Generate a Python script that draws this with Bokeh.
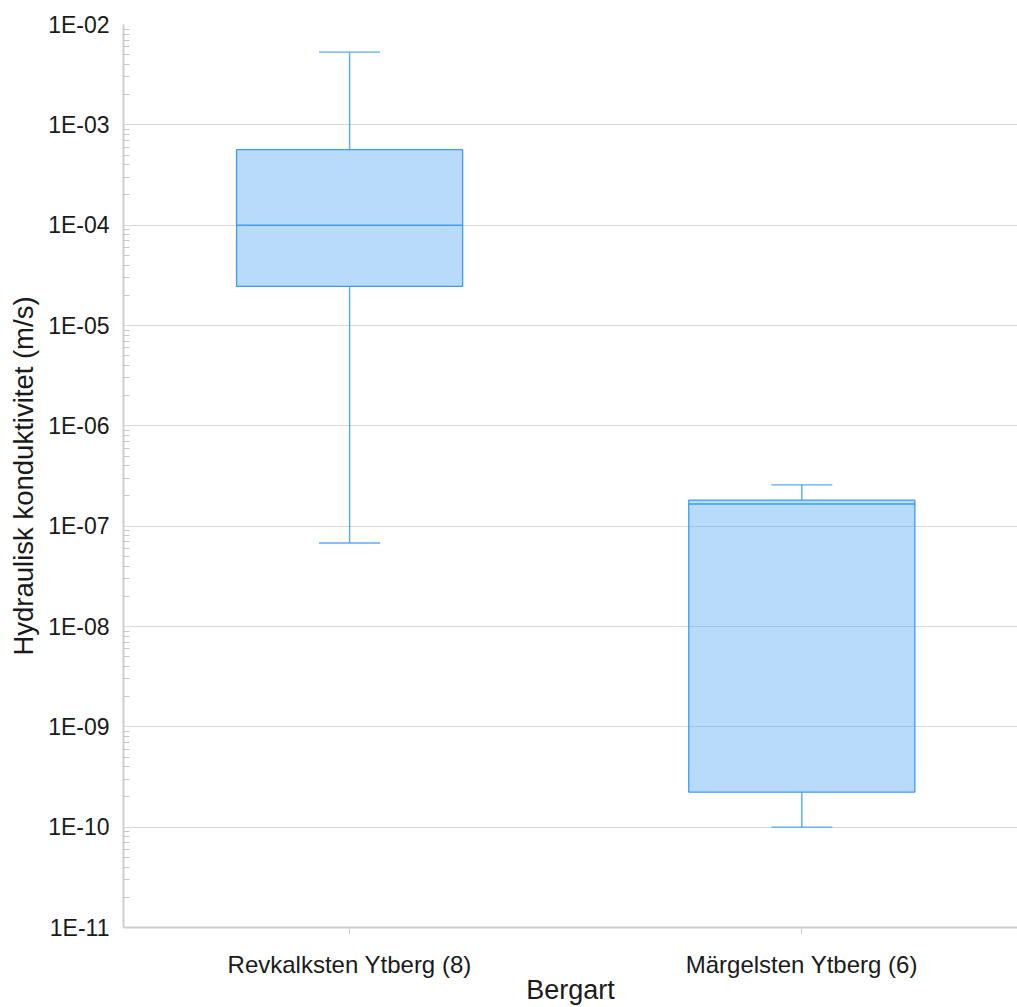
import numpy as np
from bokeh.plotting import figure
from bokeh.models import Range1d, FixedTicker, CustomJSTickFormatter
from bokeh.embed import file_html
from bokeh.resources import INLINE

# ---- data ----
categories = ["Revkalksten Ytberg (8)", "Märgelsten Ytberg (6)"]
whisker_low = [6.8e-8, 1.0e-10]
q1 = [2.45e-5, 2.24e-10]
median = [1.0e-4, 1.66e-7]
q3 = [5.66e-4, 1.82e-7]
whisker_high = [5.3e-3, 2.58e-7]
y_exponents = list(range(-11, -1))  # 1E-11 ... 1E-02
x_title = "Bergart"
y_title = "Hydraulisk konduktivitet (m/s)"

# ---- styling ----
FONT = "Liberation Sans"
TEXT = "#1a1a1a"
BLUE = "#3d9bf5"
GRID = "#d9d9d9"
AXIS = "#cfcfcf"

xs = np.arange(1, len(categories) + 1)
box_w = 0.5
cap_half = 0.0675

p = figure(
    width=1017, height=1007,
    y_axis_type="log",
    x_range=Range1d(0.5, 2.477),
    y_range=Range1d(10.0 ** y_exponents[0], 10.0 ** y_exponents[-1]),
    output_backend="svg", toolbar_location=None,
    min_border_left=123, min_border_right=0,
    min_border_top=24, min_border_bottom=80,
)
p.outline_line_color = None
p.background_fill_color = "white"
p.border_fill_color = "white"

# whiskers
p.segment(x0=xs, x1=xs, y0=whisker_low, y1=q1, line_color=BLUE, line_width=1.4, line_alpha=0.85)
p.segment(x0=xs, x1=xs, y0=q3, y1=whisker_high, line_color=BLUE, line_width=1.4, line_alpha=0.85)
p.segment(x0=xs - cap_half, x1=xs + cap_half, y0=whisker_low, y1=whisker_low,
          line_color=BLUE, line_width=1.4, line_alpha=0.85)
p.segment(x0=xs - cap_half, x1=xs + cap_half, y0=whisker_high, y1=whisker_high,
          line_color=BLUE, line_width=1.4, line_alpha=0.85)
# boxes
p.vbar(x=xs, width=box_w, bottom=q1, top=q3, fill_color=BLUE, fill_alpha=0.36,
       line_color=BLUE, line_width=1.3)
# medians
p.segment(x0=xs - box_w / 2, x1=xs + box_w / 2, y0=median, y1=median,
          line_color=BLUE, line_width=1.5)

# y axis
major = [10.0 ** e for e in y_exponents]
minor = [m * 10.0 ** e for e in y_exponents[:-1] for m in range(2, 10)]
yax = p.yaxis[0]
yax.ticker = FixedTicker(ticks=major, minor_ticks=minor)
yax.formatter = CustomJSTickFormatter(code="""
const e = Math.round(Math.log10(tick));
const s = e < 0 ? '-' : '+';
return '1E' + s + String(Math.abs(e)).padStart(2, '0');
""")
yax.axis_label = y_title
yax.axis_label_text_font = FONT
yax.axis_label_text_font_size = "27.5px"
yax.axis_label_text_font_style = "normal"
yax.axis_label_text_color = TEXT
yax.axis_label_standoff = 6
yax.major_label_text_font = FONT
yax.major_label_text_font_size = "23px"
yax.major_label_text_color = TEXT
yax.major_label_standoff = 14
yax.major_tick_in = 0
yax.major_tick_out = 0
yax.minor_tick_in = 6
yax.minor_tick_out = 0
yax.minor_tick_line_color = "#c8c8c8"
yax.axis_line_color = AXIS
yax.axis_line_width = 2

# x axis
xax = p.xaxis[0]
xax.ticker = FixedTicker(ticks=list(xs))
xax.major_label_overrides = {int(x): c for x, c in zip(xs, categories)}
xax.major_label_text_font = FONT
xax.major_label_text_font_size = "24px"
xax.major_label_text_color = TEXT
xax.major_label_standoff = 16
xax.major_tick_in = 0
xax.major_tick_out = 7
xax.major_tick_line_color = AXIS
xax.minor_tick_line_color = None
xax.axis_line_color = AXIS
xax.axis_line_width = 2
xax.axis_label = x_title
xax.axis_label_text_font = FONT
xax.axis_label_text_font_size = "27px"
xax.axis_label_text_font_style = "normal"
xax.axis_label_text_color = TEXT
xax.axis_label_standoff = -6

p.xgrid.grid_line_color = None
p.ygrid.grid_line_color = GRID
p.ygrid.grid_line_width = 1
p.ygrid.ticker = yax.ticker

open("out.html", "w").write(file_html(p, INLINE))
